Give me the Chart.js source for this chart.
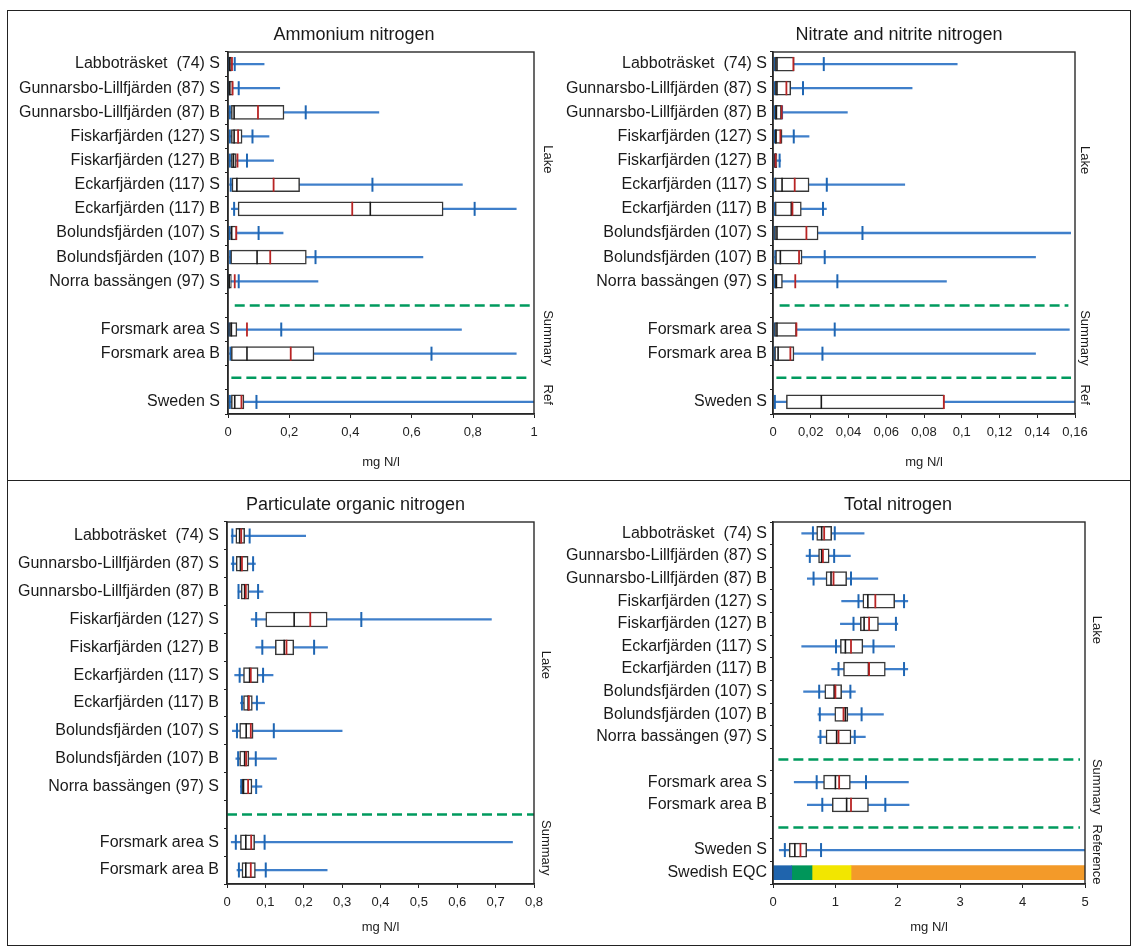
<!DOCTYPE html>
<html>
<head>
<meta charset="utf-8">
<title>Nitrogen – Forsmark lakes</title>
<script src="https://cdn.jsdelivr.net/npm/chart.js@4.4.1/dist/chart.umd.min.js"></script>
<style>
  body { margin: 0; background: #fff; }
  #frame { position: absolute; left: 7px; top: 10px; width: 1124px; height: 936px; border: 1.5px solid #222; box-sizing: border-box; }
  #split { position: absolute; left: 7px; top: 480px; width: 1124px; border-top: 1.5px solid #222; }
  canvas { position: absolute; }
</style>
</head>
<body>
<div id="frame"></div>
<div id="split"></div>
<canvas id="nh4" width="560" height="470" style="left:8px;top:11px"></canvas>
<canvas id="no3" width="583" height="470" style="left:548px;top:11px"></canvas>
<canvas id="pon" width="560" height="465" style="left:8px;top:481px"></canvas>
<canvas id="tot" width="583" height="465" style="left:548px;top:481px"></canvas>
<script>
// station labels, blank entries are the gaps holding the dashed separators
var lakeLabels = ['Labboträsket  (74) S', 'Gunnarsbo-Lillfjärden (87) S', 'Gunnarsbo-Lillfjärden (87) B',
    'Fiskarfjärden (127) S', 'Fiskarfjärden (127) B', 'Eckarfjärden (117) S', 'Eckarfjärden (117) B',
    'Bolundsfjärden (107) S', 'Bolundsfjärden (107) B', 'Norra bassängen (97) S'];
var topLabels = lakeLabels.concat([' ', 'Forsmark area S', 'Forsmark area B', '  ', 'Sweden S']);
var ponLabels = lakeLabels.concat([' ', 'Forsmark area S', 'Forsmark area B']);
var totLabels = topLabels.concat(['Swedish EQC']);

// Ammonium nitrogen, mg N/l
var nh4Min    = [0.002, 0.002, 0.002, 0.002, 0.003, 0.005, 0.011, 0.003, 0.005, 0.001, null, 0.002, 0.005, null, 0.002];
var nh4P10    = [0.003, 0.002, 0.006, 0.006, 0.006, 0.009, 0.020, 0.005, 0.007, 0.002, null, 0.003, 0.008, null, 0.006];
var nh4Q1     = [0.003, 0.002, 0.011, 0.011, 0.011, 0.013, 0.033, 0.009, 0.009, 0.002, null, 0.005, 0.011, null, 0.011];
var nh4Median = [0.006, 0.006, 0.020, 0.020, 0.018, 0.029, 0.465, 0.012, 0.095, 0.004, null, 0.011, 0.062, null, 0.022];
var nh4Mean   = [0.013, 0.015, 0.098, 0.033, 0.031, 0.149, 0.406, 0.027, 0.138, 0.022, null, 0.062, 0.205, null, 0.044];
var nh4Q3     = [0.011, 0.016, 0.183, 0.046, 0.027, 0.234, 0.703, 0.029, 0.256, 0.011, null, 0.029, 0.281, null, 0.052];
var nh4P90    = [0.022, 0.035, 0.254, 0.080, 0.062, 0.472, 0.806, 0.100, 0.286, 0.035, null, 0.174, 0.665, null, 0.093];
var nh4Max    = [0.118, 0.169, 0.493, 0.134, 0.149, 0.766, 0.942, 0.180, 0.637, 0.294, null, 0.763, 0.942, null, 1.6];
var nh4SepFrom = [0.022, 0.011];
var nh4SepTo   = [0.986, 0.986];

// Nitrate and nitrite nitrogen, mg N/l
var no3Min    = [0.0008, 0.0008, 0.0008, 0.0008, 0.0008, 0.0009, 0.0009, 0.0008, 0.0008, 0.0008, null, 0.0008, 0.0008, null, 0.0009];
var no3P10    = [0.0009, 0.0010, 0.0010, 0.0010, 0.0009, 0.0010, 0.0010, 0.0009, 0.0012, 0.0010, null, 0.0009, 0.0009, null, 0.0010];
var no3Q1     = [0.0010, 0.0012, 0.0012, 0.0012, 0.0009, 0.0012, 0.0012, 0.0009, 0.0014, 0.0012, null, 0.0009, 0.0009, null, 0.0071];
var no3Median = [0.0021, 0.0021, 0.0018, 0.0016, 0.0012, 0.0048, 0.0097, 0.0021, 0.0039, 0.0018, null, 0.0021, 0.0027, null, 0.0256];
var no3Mean   = [0.0108, 0.0071, 0.0046, 0.0039, 0.0014, 0.0115, 0.0103, 0.0177, 0.0138, 0.0118, null, 0.0124, 0.0092, null, 0.0905];
var no3Q3     = [0.0112, 0.0094, 0.0044, 0.0048, 0.0021, 0.0191, 0.0150, 0.0239, 0.0154, 0.0050, null, 0.0124, 0.0111, null, 0.0907];
var no3P90    = [0.0269, 0.0159, 0.0048, 0.0110, 0.0035, 0.0285, 0.0265, 0.0474, 0.0274, 0.0341, null, 0.0327, 0.0262, null, 0.19];
var no3Max    = [0.0976, 0.0737, 0.0394, 0.0191, 0.0041, 0.0698, 0.0283, 0.1577, 0.1391, 0.0919, null, 0.1570, 0.1391, null, 0.30];
var no3SepFrom = [0.0035, 0.0018];
var no3SepTo   = [0.1565, 0.1579];

// Particulate organic nitrogen, mg N/l
var ponMin    = [0.011, 0.011, 0.029, 0.063, 0.075, 0.020, 0.035, 0.014, 0.023, 0.035, null, 0.011, 0.026];
var ponP10    = [0.014, 0.016, 0.030, 0.076, 0.092, 0.033, 0.039, 0.026, 0.029, 0.037, null, 0.023, 0.031];
var ponQ1     = [0.023, 0.024, 0.037, 0.101, 0.126, 0.043, 0.043, 0.033, 0.033, 0.039, null, 0.035, 0.039];
var ponMedian = [0.033, 0.035, 0.046, 0.175, 0.149, 0.059, 0.055, 0.050, 0.046, 0.043, null, 0.049, 0.049];
var ponMean   = [0.037, 0.039, 0.049, 0.217, 0.155, 0.062, 0.057, 0.062, 0.050, 0.055, null, 0.063, 0.062];
var ponQ3     = [0.046, 0.055, 0.057, 0.261, 0.174, 0.081, 0.066, 0.068, 0.057, 0.065, null, 0.072, 0.074];
var ponP90    = [0.059, 0.068, 0.081, 0.350, 0.227, 0.094, 0.078, 0.122, 0.075, 0.076, null, 0.098, 0.101];
var ponMax    = [0.205, 0.074, 0.094, 0.689, 0.262, 0.120, 0.098, 0.300, 0.129, 0.091, null, 0.744, 0.261];
var ponSepFrom = [0];
var ponSepTo   = [0.8];

// Total nitrogen, mg N/l
var totMin    = [0.46, 0.53, 0.55, 1.10, 1.08, 0.46, 0.94, 0.49, 0.72, 0.72, null, 0.34, 0.55, null, 0.10, null];
var totP10    = [0.64, 0.59, 0.65, 1.37, 1.29, 1.01, 1.05, 0.74, 0.75, 0.76, null, 0.70, 0.79, null, 0.19, null];
var totQ1     = [0.70, 0.73, 0.85, 1.44, 1.40, 1.08, 1.13, 0.83, 0.99, 0.85, null, 0.81, 0.95, null, 0.26, null];
var totMedian = [0.78, 0.78, 0.93, 1.52, 1.46, 1.16, 1.53, 0.98, 1.16, 1.02, null, 1.00, 1.18, null, 0.35, null];
var totMean   = [0.82, 0.80, 0.97, 1.64, 1.54, 1.25, 1.54, 1.00, 1.13, 1.05, null, 1.06, 1.25, null, 0.44, null];
var totQ3     = [0.94, 0.90, 1.18, 1.95, 1.69, 1.44, 1.80, 1.10, 1.20, 1.25, null, 1.24, 1.53, null, 0.54, null];
var totP90    = [0.99, 0.98, 1.25, 2.10, 1.97, 1.61, 2.10, 1.24, 1.42, 1.31, null, 1.49, 1.80, null, 0.77, null];
var totMax    = [1.46, 1.24, 1.68, 2.16, 2.00, 1.95, 2.16, 1.32, 1.77, 1.48, null, 2.17, 2.18, null, 6.5, null];
var totSepFrom = [0.086, 0.086];
var totSepTo   = [4.92, 4.92];

// Swedish environmental quality classes for total nitrogen
var eqcLimits = [0, 0.3, 0.625, 1.25, 5];
var eqcColors = ['#1f64ad', '#00965a', '#f2e600', '#f39a29'];

var whiskerBlue = '#3f7fca';
var tickBlue = '#1f66b3';
var meanRed = '#b82424';
var boxGrey = '#383838';
var sepGreen = '#009a5e';

Chart.defaults.font.family = '"Liberation Sans", Arial, Helvetica, sans-serif';
Chart.defaults.color = '#1a1a1a';

var panelDecor = {
    id: 'panelDecor',
    afterDraw: function (chart, args, opts) {
        var ctx = chart.ctx, a = chart.chartArea, ys = chart.scales.y;
        ctx.save();
        ctx.strokeStyle = '#2a2a2a';
        ctx.lineWidth = 1.4;
        ctx.strokeRect(a.left, a.top, a.right - a.left, a.bottom - a.top);
        ctx.fillStyle = '#1a1a1a';
        ctx.textAlign = 'center';
        ctx.textBaseline = 'middle';
        ctx.font = '18px "Liberation Sans", Arial, sans-serif';
        ctx.fillText(opts.title, (a.left + a.right) / 2 + opts.titleShift, 24);
        ctx.font = '13px "Liberation Sans", Arial, sans-serif';
        opts.groups.forEach(function (g) {
            ctx.save();
            ctx.translate(a.right + opts.gap, ys.getPixelForValue(g.at));
            ctx.rotate(Math.PI / 2);
            ctx.fillText(g.text, 0, 0);
            ctx.restore();
        });
        ctx.restore();
    }
};

function pairs(lo, hi) {
    return lo.map(function (v, i) { return v === null ? null : [v, hi[i]]; });
}

function marks(values, color, width, len, order) {
    return {
        type: 'line', data: values, showLine: false,
        pointStyle: 'line', pointRotation: 90,
        pointRadius: len / 2, pointHoverRadius: len / 2,
        pointBorderWidth: width, pointHoverBorderWidth: width,
        pointBorderColor: color, pointBackgroundColor: color,
        order: order
    };
}

function commaTick(v) {
    return String(Math.round(v * 100) / 100).replace('.', ',');
}

function drawPanel(id, labels, s, cfg) {
    var datasets = [
        { type: 'bar', data: pairs(s.min, s.max), backgroundColor: whiskerBlue, borderWidth: 0,
          barThickness: 1.6, grouped: false, order: 6 },
        marks(s.p10, tickBlue, 2, cfg.boxH, 5),
        marks(s.p90, tickBlue, 2, cfg.boxH, 5),
        { type: 'bar', data: pairs(s.q1, s.q3), backgroundColor: '#ffffff', borderColor: boxGrey,
          borderWidth: 1.5, borderSkipped: false, barThickness: cfg.boxH, grouped: false, order: 4 },
        marks(s.median, '#1a1a1a', 1.6, cfg.boxH, 3),
        marks(s.mean, meanRed, 1.8, cfg.boxH, 2)
    ];

    // dashed separators sit on the blank categories
    var gaps = labels.filter(function (l) { return l.trim() === ''; });
    gaps.forEach(function (gap, k) {
        datasets.push({
            type: 'line', data: [{ x: s.sepFrom[k], y: gap }, { x: s.sepTo[k], y: gap }],
            borderColor: sepGreen, borderWidth: 2.5, borderDash: [10, 5], pointRadius: 0, order: 1
        });
    });

    (cfg.extra || []).forEach(function (d) { datasets.push(d); });

    return new Chart(document.getElementById(id), {
        type: 'bar',
        data: { labels: labels, datasets: datasets },
        options: {
            indexAxis: 'y',
            responsive: false,
            animation: false,
            devicePixelRatio: 1,
            events: [],
            layout: { padding: { left: 0, top: 41, right: cfg.padRight, bottom: cfg.padBottom } },
            scales: {
                x: {
                    type: 'linear', min: 0, max: cfg.xMax,
                    ticks: { stepSize: cfg.step, callback: commaTick, font: { size: 13 }, color: '#222', padding: 7 },
                    grid: { drawOnChartArea: false, tickLength: 4, color: '#222' },
                    border: { color: '#222', width: 1.5 },
                    title: { display: true, text: 'mg N/l', font: { size: 13 }, color: '#222', padding: 0 },
                    afterFit: function (sc) { sc.height = cfg.xHeight; }
                },
                y: {
                    type: 'category', offset: true,
                    ticks: { font: { size: 16 }, color: '#1a1a1a', padding: cfg.labelPad, autoSkip: false },
                    grid: { offset: true, drawOnChartArea: false, tickLength: 3, color: '#222' },
                    border: { color: '#222', width: 1.5 },
                    afterFit: function (sc) { sc.width = cfg.yWidth; }
                }
            },
            plugins: {
                legend: { display: false },
                tooltip: { enabled: false },
                panelDecor: { title: cfg.title, titleShift: cfg.titleShift, gap: cfg.gap, groups: cfg.groups }
            }
        },
        plugins: [panelDecor]
    });
}

drawPanel('nh4', topLabels, {
    min: nh4Min, p10: nh4P10, q1: nh4Q1, median: nh4Median, mean: nh4Mean, q3: nh4Q3, p90: nh4P90, max: nh4Max,
    sepFrom: nh4SepFrom, sepTo: nh4SepTo
}, {
    title: 'Ammonium nitrogen', titleShift: -27, xMax: 1, step: 0.2, boxH: 14,
    yWidth: 220, labelPad: 5, padRight: 34, padBottom: 11, xHeight: 56, gap: 14,
    groups: [{ text: 'Lake', at: 3.95 }, { text: 'Summary', at: 11.35 }, { text: 'Ref', at: 13.7 }]
});

drawPanel('no3', topLabels, {
    min: no3Min, p10: no3P10, q1: no3Q1, median: no3Median, mean: no3Mean, q3: no3Q3, p90: no3P90, max: no3Max,
    sepFrom: no3SepFrom, sepTo: no3SepTo
}, {
    title: 'Nitrate and nitrite nitrogen', titleShift: -25, xMax: 0.16, step: 0.02, boxH: 14,
    yWidth: 225, labelPad: 3, padRight: 56, padBottom: 11, xHeight: 56, gap: 10,
    groups: [{ text: 'Lake', at: 3.98 }, { text: 'Summary', at: 11.35 }, { text: 'Ref', at: 13.7 }]
});

drawPanel('pon', ponLabels, {
    min: ponMin, p10: ponP10, q1: ponQ1, median: ponMedian, mean: ponMean, q3: ponQ3, p90: ponP90, max: ponMax,
    sepFrom: ponSepFrom, sepTo: ponSepTo
}, {
    title: 'Particulate organic nitrogen', titleShift: -25, xMax: 0.8, step: 0.1, boxH: 15,
    yWidth: 219, labelPad: 5, padRight: 34, padBottom: 11, xHeight: 51, gap: 12,
    groups: [{ text: 'Lake', at: 4.63 }, { text: 'Summary', at: 11.2 }]
});

// quality class bands on the last row of the total nitrogen panel
var eqcSets = eqcColors.map(function (c, k) {
    var row = totLabels.map(function () { return null; });
    row[totLabels.length - 1] = [eqcLimits[k], eqcLimits[k + 1]];
    return { type: 'bar', data: row, backgroundColor: c, borderWidth: 0, barThickness: 14, grouped: false, order: 6 };
});

drawPanel('tot', totLabels, {
    min: totMin, p10: totP10, q1: totQ1, median: totMedian, mean: totMean, q3: totQ3, p90: totP90, max: totMax,
    sepFrom: totSepFrom, sepTo: totSepTo
}, {
    title: 'Total nitrogen', titleShift: -31, xMax: 5, step: 1, boxH: 14,
    yWidth: 225, labelPad: 3, padRight: 46, padBottom: 11, xHeight: 51, gap: 12, extra: eqcSets,
    groups: [{ text: 'Lake', at: 4.27 }, { text: 'Summary', at: 11.2 }, { text: 'Reference', at: 14.2 }]
});
</script>
</body>
</html>
